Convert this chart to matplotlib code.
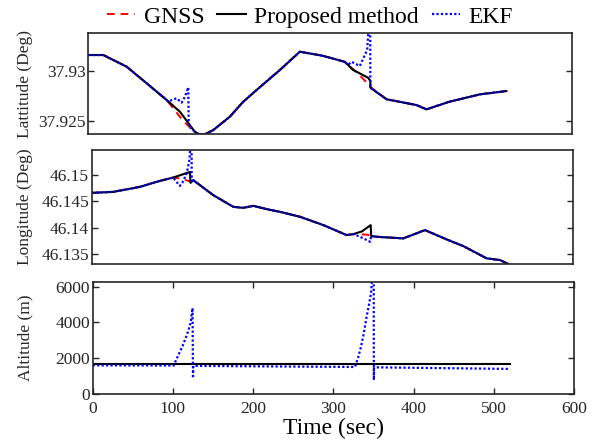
import numpy as np
import matplotlib
matplotlib.use("Agg")
import matplotlib.pyplot as plt

plt.rcParams["font.family"] = ["Liberation Serif", "DejaVu Serif"]

# --- latitude (deg) ---
lat_t = [0, 18.6, 47.6, 72.4, 97.2, 110, 116, 124, 132, 138, 145, 155, 175.6,
         192, 208.7, 237.6, 262.4, 290, 318, 322.3, 333, 348, 349.5, 370, 407,
         419.5, 448, 485.6, 518.6]
lat_gnss = [37.93156, 37.93156, 37.93040, 37.92875, 37.92709, 37.92580,
            37.92518, 37.92452, 37.92394, 37.92365, 37.92370, 37.92410,
            37.92543, 37.92690, 37.92808, 37.93007, 37.93189, 37.93150,
            37.93089, 37.93057, 37.92985, 37.92860, 37.92841, 37.92716,
            37.92659, 37.92616, 37.92692, 37.92765, 37.92798]
lat_prop_t = [97.2, 113.7, 126, 132, 322.3, 328, 347.1, 349.8, 350]
lat_prop_w = [37.92709, 37.92592, 37.92460, 37.92394, 37.93057, 37.93010,
              37.92930, 37.92900, 37.92830]
lat_ekf_t = [97.2, 99.2, 103.4, 109.6, 115.8, 119.9, 124, 124.6, 126, 132,
             322.3, 326.5, 336.8, 345.9, 348.4, 349.6, 349.9, 352]
lat_ekf_w = [37.92709, 37.92690, 37.92709, 37.92726, 37.92682, 37.92742,
             37.92835, 37.92443, 37.92440, 37.92394, 37.93057, 37.93089,
             37.93047, 37.93206, 37.9350, 37.9370, 37.92830, 37.92820]

# --- longitude (deg) ---
lon_t = [0, 27, 60, 85, 101.8, 112, 123, 126.8, 151.7, 176.6, 189, 201.6,
         218.3, 235, 260, 289, 318, 326.3, 335, 347, 349.5, 355.5, 388.7,
         415.7, 442.8, 463.5, 492.7, 509.3, 519.7]
lon_gnss = [46.14664, 46.14683, 46.14778, 46.14892, 46.14956, 46.14934,
            46.14880, 46.14905, 46.14620, 46.14398, 46.14379, 46.14417,
            46.14354, 46.14303, 46.14208, 46.14050, 46.13860, 46.13879,
            46.13879, 46.13860, 46.13841, 46.13828, 46.13797, 46.13955,
            46.13778, 46.13651, 46.13417, 46.13385, 46.13309]
lon_prop_t = [101.8, 122.6, 123.2, 126.8, 326.3, 337, 348, 348.6]
lon_prop_w = [46.14956, 46.15063, 46.14854, 46.14905, 46.13879, 46.13930,
              46.14050, 46.13845]
lon_ekf_t = [101.8, 104, 110, 113, 118.5, 121.8, 124.5, 124.8, 126.8,
             326.3, 334.7, 347.5, 348.6]
lon_ekf_w = [46.14956, 46.14905, 46.14797, 46.14854, 46.15032, 46.15285,
             46.1580, 46.14860, 46.14905, 46.13879, 46.13828, 46.13733,
             46.13845]

# --- altitude (m) ---
alt_t = [0, 520]
alt_prop = [1660, 1660]
alt_ekf_t = [0, 101, 104, 107.8, 112, 116, 119, 122, 124.5, 125, 125.5, 325,
             327, 331, 334.5, 338, 341.5, 344.5, 347, 350.3, 350.5, 350.8, 520]
alt_ekf = [1600, 1590, 1900, 2270, 2680, 3130, 3500, 3960, 4800, 880, 1570,
           1510, 1510, 2050, 2640, 3400, 4320, 5000, 5630, 7500, 780, 1490,
           1400]


def splice(t_base, v_base, t_win, v_win):
    t_base = np.asarray(t_base, float)
    v_base = np.asarray(v_base, float)
    t_win = np.asarray(t_win, float)
    v_win = np.asarray(v_win, float)
    keep = np.ones(len(t_base), bool)
    # windows are given as segments separated by a big time gap
    cut = np.where(np.diff(t_win) > 100)[0]
    for idx in np.split(np.arange(len(t_win)), cut + 1):
        keep &= ~((t_base >= t_win[idx[0]]) & (t_base <= t_win[idx[-1]]))
    t = np.concatenate([t_base[keep], t_win])
    v = np.concatenate([v_base[keep], v_win])
    order = np.argsort(t, kind="stable")
    return t[order], v[order]


W, H = 596, 444
fig = plt.figure(figsize=(W / 100, H / 100), dpi=100)


def box(l, r, top, bot):
    return [l / W, 1 - bot / H, (r - l) / W, (bot - top) / H]


ax1 = fig.add_axes(box(88.3, 572, 33.3, 134))
ax2 = fig.add_axes(box(91.7, 572.7, 150, 264))
ax3 = fig.add_axes(box(92.7, 574, 281.7, 394))

frame = "#262626"
kw_g = dict(color="red", linestyle=(0, (4, 3)), linewidth=1.4)
kw_p = dict(color="black", linestyle="-", linewidth=1.5)
kw_e = dict(color="blue", linestyle=(0, (1, 1)), linewidth=1.6)

h_g, = ax1.plot(lat_t, lat_gnss, label="GNSS", **kw_g)
ax1.plot(*splice(lat_t, lat_gnss, lat_prop_t, lat_prop_w), **kw_p)
ax1.plot(*splice(lat_t, lat_gnss, lat_ekf_t, lat_ekf_w), **kw_e)
ax1.set_ylim(37.92371, 37.93372)
ax1.set_yticks([37.925, 37.93])
ax1.set_yticklabels(["37.925", "37.93"])
ax1.set_ylabel("Lattitude (Deg)")

ax2.plot(lon_t, lon_gnss, **kw_g)
ax2.plot(*splice(lon_t, lon_gnss, lon_prop_t, lon_prop_w), **kw_p)
ax2.plot(*splice(lon_t, lon_gnss, lon_ekf_t, lon_ekf_w), **kw_e)
ax2.set_ylim(46.1331, 46.1548)
ax2.set_yticks([46.135, 46.14, 46.145, 46.15])
ax2.set_yticklabels(["46.135", "46.14", "46.145", "46.15"])
ax2.set_ylabel("Longitude (Deg)")

ax3.plot(alt_t, alt_prop, **kw_g)
h_p, = ax3.plot(alt_t, alt_prop, label="Proposed method", **kw_p)
h_e, = ax3.plot(alt_ekf_t, alt_ekf, label="EKF", **kw_e)
ax3.set_ylim(0, 6270)
ax3.set_yticks([0, 2000, 4000, 6000])
ax3.set_ylabel("Altitude (m)")
ax3.set_xticks(range(0, 601, 100))
ax3.set_xlabel("Time (sec)", fontsize=17, labelpad=1)

for ax in (ax1, ax2, ax3):
    ax.set_xlim(0, 600)
    for s in ax.spines.values():
        s.set_linewidth(1.2)
        s.set_color(frame)
    ax.tick_params(direction="in", length=4, width=1.0, colors=frame,
                   labelsize=12.5, right=True, top=(ax is ax3), pad=2)
    ax.yaxis.label.set_size(12.5)
    ax.yaxis.label.set_color(frame)
for ax in (ax1, ax2):
    ax.set_xticks([])
ax3.tick_params(axis="x", pad=5)

ax1.yaxis.set_label_coords(-0.114, 0.5)
ax2.yaxis.set_label_coords(-0.122, 0.5)
ax3.yaxis.set_label_coords(-0.124, 0.5)

fig.legend([h_g, h_p, h_e], ["GNSS", "Proposed method", "EKF"],
           loc="center", bbox_to_anchor=(0.52, 0.962), ncol=3, frameon=False,
           fontsize=17, handlelength=1.2, handletextpad=0.35,
           columnspacing=0.55, borderaxespad=0, borderpad=0)

fig.savefig("out.png", dpi=100)
